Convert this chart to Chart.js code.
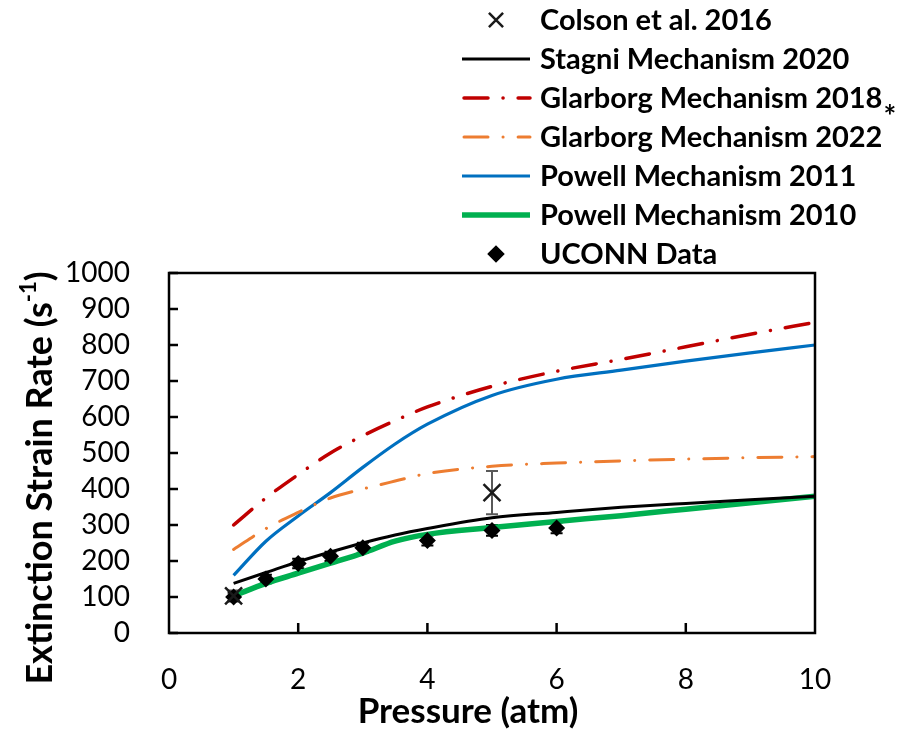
<!DOCTYPE html>
<html>
<head>
<meta charset="utf-8">
<script src="https://cdn.jsdelivr.net/npm/chart.js@4/dist/chart.umd.min.js"></script>
<style>
  html, body { margin: 0; padding: 0; background: #ffffff; }
  #wrap { width: 917px; height: 731px; }
</style>
</head>
<body>
<div id="wrap"><canvas id="c" width="917" height="731"></canvas></div>
<script>
// Pressure grid (atm) for the mechanism predictions
const pressure = [1, 1.5, 2, 2.5, 3, 3.5, 4, 5, 6, 7, 8, 9, 10];

// Predicted extinction strain rates (1/s)
const stagni2020   = [138, 168, 198, 225, 250, 272, 290, 320, 335, 349, 360, 370, 380];
const glarborg2018 = [300, 375, 440, 500, 548, 590, 628, 685, 727, 760, 795, 830, 863];
const glarborg2022 = [232, 290, 335, 375, 400, 422, 443, 463, 472, 478, 483, 487, 490];
const powell2011   = [160, 255, 325, 390, 460, 525, 580, 660, 705, 730, 755, 778, 800];
const powell2010   = [103, 138, 166, 194, 222, 255, 274, 293, 310, 326, 344, 362, 380];

// Measurements
const colsonP    = [1, 5];
const colsonRate = [103, 390];
const colsonErr  = [15, 60];

const uconnP    = [1, 1.5, 2, 2.5, 3, 4, 5, 6];
const uconnRate = [100, 150, 193, 213, 237, 257, 285, 292];
const uconnErr  = [12, 12, 13, 13, 14, 14, 15, 15];

// Axis ranges and tick spacing
const xTicks = { min: 0, max: 10, step: 2 };
const yTicks = { min: 0, max: 1000, step: 100 };

const FONT = 'Lato, "Open Sans", "DejaVu Sans", sans-serif';

const pts = (xs, ys) => xs.map((x, i) => ({ x: x, y: ys[i] }));

function lineSet(label, data, color, width, dash) {
  return {
    label: label,
    type: 'line',
    data: pts(pressure, data),
    borderColor: color,
    backgroundColor: color,
    borderWidth: width,
    borderDash: dash || [],
    borderCapStyle: dash ? 'round' : 'butt',
    pointRadius: 0,
    pointHoverRadius: 0,
    cubicInterpolationMode: 'monotone',
    fill: false,
    order: 3
  };
}

const datasets = [
  {
    label: 'Colson et al. 2016',
    type: 'scatter',
    data: pts(colsonP, colsonRate),
    errors: colsonErr,
    errColor: '#595959',
    pointStyle: 'crossRot',
    pointRadius: 12,
    borderWidth: 2.5,
    borderColor: '#1a1a1a',
    backgroundColor: '#1a1a1a',
    showLine: false,
    order: 0
  },
  lineSet('Stagni Mechanism 2020', stagni2020, '#000000', 3),
  lineSet('Glarborg Mechanism 2018', glarborg2018, '#C00000', 3.5, [24, 15, 0.1, 15]),
  lineSet('Glarborg Mechanism 2022', glarborg2022, '#ED7D31', 3, [24, 15, 0.1, 15]),
  lineSet('Powell Mechanism 2011', powell2011, '#0070C0', 3.2),
  lineSet('Powell Mechanism 2010', powell2010, '#00B050', 5.5),
  {
    label: 'UCONN Data',
    type: 'scatter',
    data: pts(uconnP, uconnRate),
    errors: uconnErr,
    errColor: '#000000',
    pointStyle: 'rectRot',
    pointRadius: 8.5,
    borderWidth: 0,
    borderColor: '#000000',
    backgroundColor: '#000000',
    showLine: false,
    order: 1
  }
];

// Error bars, drawn under the markers
const errorBars = {
  id: 'errorBars',
  beforeDatasetsDraw(chart) {
    const ctx = chart.ctx;
    const xs = chart.scales.x, ys = chart.scales.y;
    chart.data.datasets.forEach(ds => {
      if (!ds.errors) return;
      ctx.save();
      ctx.strokeStyle = ds.errColor;
      ctx.lineWidth = 2;
      ds.data.forEach((p, i) => {
        const px = xs.getPixelForValue(p.x);
        const top = ys.getPixelForValue(p.y + ds.errors[i]);
        const bot = ys.getPixelForValue(p.y - ds.errors[i]);
        ctx.beginPath();
        ctx.moveTo(px, top); ctx.lineTo(px, bot);
        ctx.moveTo(px - 6, top); ctx.lineTo(px + 6, top);
        ctx.moveTo(px - 6, bot); ctx.lineTo(px + 6, bot);
        ctx.stroke();
      });
      ctx.restore();
    });
  }
};

// Frame, inward ticks, axis titles and the stacked legend above the plot
const decorations = {
  id: 'decorations',
  afterDraw(chart) {
    const ctx = chart.ctx;
    const a = chart.chartArea;
    const xs = chart.scales.x, ys = chart.scales.y;
    ctx.save();

    // plot frame
    ctx.strokeStyle = '#000';
    ctx.lineWidth = 2.5;
    ctx.strokeRect(a.left, a.top, a.right - a.left, a.bottom - a.top);

    // inward tick marks
    ctx.beginPath();
    for (let v = yTicks.min; v <= yTicks.max; v += yTicks.step) {
      const py = ys.getPixelForValue(v);
      ctx.moveTo(a.left, py); ctx.lineTo(a.left + 9, py);
    }
    for (let v = xTicks.min + xTicks.step; v < xTicks.max; v += xTicks.step) {
      const px = xs.getPixelForValue(v);
      ctx.moveTo(px, a.bottom); ctx.lineTo(px, a.bottom - 10);
    }
    ctx.stroke();

    // x-axis title
    ctx.fillStyle = '#000';
    ctx.font = 'bold 35px ' + FONT;
    ctx.textAlign = 'center';
    ctx.textBaseline = 'middle';
    ctx.fillText('Pressure (atm)', 468, 712);

    // y-axis title with superscript
    ctx.save();
    ctx.translate(40, 478);
    ctx.rotate(-Math.PI / 2);
    const main = 'Extinction Strain Rate (s';
    const sup = '-1';
    const close = ')';
    ctx.font = 'bold 36px ' + FONT;
    const wMain = ctx.measureText(main).width;
    const wClose = ctx.measureText(close).width;
    ctx.font = 'bold 22px ' + FONT;
    const wSup = ctx.measureText(sup).width;
    const x0 = -(wMain + wSup + wClose) / 2;
    ctx.textAlign = 'left';
    ctx.textBaseline = 'middle';
    ctx.font = 'bold 36px ' + FONT;
    ctx.fillText(main, x0, 0);
    ctx.font = 'bold 22px ' + FONT;
    ctx.fillText(sup, x0 + wMain, -11);
    ctx.font = 'bold 36px ' + FONT;
    ctx.fillText(close, x0 + wMain + wSup, 0);
    ctx.restore();

    // legend
    const rowY0 = 20, rowGap = 39;
    const sx0 = 462, sx1 = 530, tx = 540;
    ctx.font = 'bold 29px ' + FONT;
    ctx.textAlign = 'left';
    ctx.textBaseline = 'middle';
    let starX = 0;
    chart.data.datasets.forEach((ds, i) => {
      const cy = rowY0 + i * rowGap;
      if (ds.type === 'line') {
        ctx.save();
        ctx.strokeStyle = ds.borderColor;
        ctx.lineWidth = ds.borderWidth;
        ctx.setLineDash(ds.borderDash || []);
        ctx.lineCap = ds.borderCapStyle;
        ctx.beginPath();
        ctx.moveTo(sx0 + (ds.borderDash.length ? 2 : 0), cy);
        ctx.lineTo(sx1, cy);
        ctx.stroke();
        ctx.restore();
      } else {
        ctx.save();
        ctx.fillStyle = ds.backgroundColor;
        ctx.strokeStyle = ds.borderColor;
        Chart.helpers.drawPoint(ctx, {
          pointStyle: ds.pointStyle,
          radius: ds.pointStyle === 'rectRot' ? 7 : 10,
          borderWidth: ds.pointStyle === 'rectRot' ? 0.01 : 2.5,
          rotation: 0
        }, (sx0 + sx1) / 2, cy);
        ctx.restore();
      }
      ctx.fillStyle = '#000';
      ctx.fillText(ds.label, tx, cy + 1);
      if (ds.label === 'Glarborg Mechanism 2018') {
        starX = tx + ctx.measureText(ds.label).width;
      }
    });
    // footnote mark on the 2018 mechanism
    ctx.font = 'bold 30px ' + FONT;
    ctx.fillText('*', starX + 1, 117);
    ctx.restore();
  }
};

Chart.defaults.color = '#000';

const chart = new Chart(document.getElementById('c'), {
  type: 'scatter',
  data: { datasets: datasets },
  options: {
    responsive: false,
    animation: false,
    layout: { padding: { top: 273, right: 102, left: 0, bottom: 0 } },
    plugins: {
      legend: { display: false },
      tooltip: { enabled: false },
      title: { display: false }
    },
    scales: {
      x: {
        type: 'linear',
        min: xTicks.min, max: xTicks.max,
        ticks: {
          stepSize: xTicks.step, padding: 22, autoSkip: false, maxRotation: 0,
          color: '#000', font: { family: FONT, size: 28 }
        },
        grid: { display: false },
        border: { display: false },
        afterFit(s) { s.height = 98; }
      },
      y: {
        type: 'linear',
        min: yTicks.min, max: yTicks.max,
        ticks: {
          stepSize: yTicks.step, padding: 31, autoSkip: false,
          color: '#000', font: { family: FONT, size: 28 },
          callback: v => String(v)
        },
        grid: { display: false },
        border: { display: false },
        afterFit(s) { s.width = 169; }
      }
    }
  },
  plugins: [errorBars, decorations]
});
</script>
</body>
</html>
